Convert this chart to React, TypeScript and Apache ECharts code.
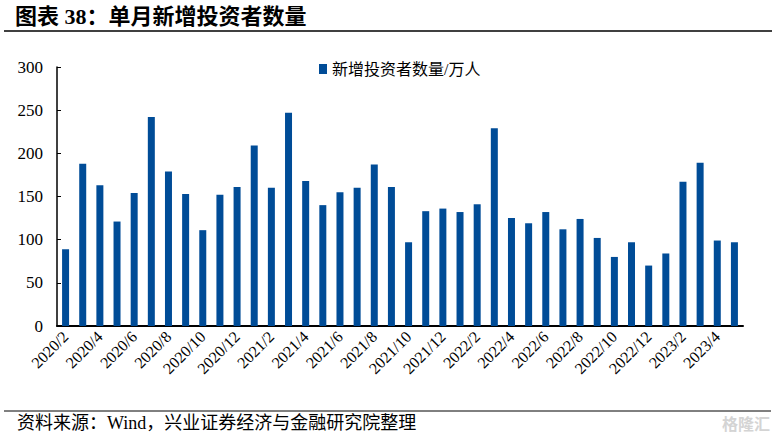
import React, { useEffect, useRef } from "react";
import * as echarts from "echarts";

const months: string[] = [
  "2020/2","2020/3","2020/4","2020/5","2020/6","2020/7","2020/8","2020/9","2020/10","2020/11","2020/12",
  "2021/1","2021/2","2021/3","2021/4","2021/5","2021/6","2021/7","2021/8","2021/9","2021/10","2021/11","2021/12",
  "2022/1","2022/2","2022/3","2022/4","2022/5","2022/6","2022/7","2022/8","2022/9","2022/10","2022/11","2022/12",
  "2023/1","2023/2","2023/3","2023/4","2023/5",
];
const newInvestors: number[] = [
  89, 188, 163, 121, 154, 242, 179, 153, 111, 152, 161,
  209, 160, 247, 168, 140, 155, 160, 187, 161, 97, 133, 136,
  132, 141, 229, 125, 119, 132, 112, 124, 102, 80, 97, 70,
  84, 167, 189, 99, 97,
];
const seriesName = "新增投资者数量/万人";
const titleText = "图表 38：单月新增投资者数量";
const sourceText = "资料来源：Wind，兴业证券经济与金融研究院整理";

const SERIF = "Liberation Serif, Noto Sans CJK SC, serif";

export default function App() {
  const ref = useRef<HTMLDivElement>(null);
  useEffect(() => {
    document.body.style.margin = "0";
    if (!ref.current) return;
    const chart = echarts.init(ref.current, undefined, { renderer: "svg" });
    chart.setOption({
      animation: false,
      backgroundColor: "#ffffff",
      grid: { left: 57, right: 34, top: 67, bottom: 114, containLabel: false },
      legend: {
        data: [seriesName],
        left: 314,
        top: 56,
        itemWidth: 8,
        itemHeight: 10,
        itemGap: 5,
        textStyle: { fontFamily: SERIF, fontSize: 16, color: "#000" },
        icon: "rect",
      },
      xAxis: {
        type: "category",
        data: months,
        axisLine: { lineStyle: { color: "#000", width: 2 } },
        axisTick: { show: false },
        axisLabel: {
          interval: 1,
          rotate: 45,
          fontFamily: SERIF,
          fontSize: 16,
          color: "#000",
          margin: 8,
        },
      },
      yAxis: {
        type: "value",
        min: 0,
        max: 300,
        interval: 50,
        axisLine: { show: true, lineStyle: { color: "#000", width: 1.5 } },
        axisTick: { show: true, inside: true, length: 4, lineStyle: { color: "#000" } },
        splitLine: { show: false },
        axisLabel: { fontFamily: SERIF, fontSize: 17, color: "#000", margin: 14 },
      },
      series: [
        {
          name: seriesName,
          type: "bar",
          data: newInvestors,
          barWidth: 7,
          itemStyle: { color: "#004C97" },
        },
      ],
      graphic: [
        {
          type: "text",
          left: 15,
          top: 5,
          style: {
            text: titleText,
            fontFamily: SERIF,
            fontWeight: "bold",
            fontSize: 22,
            fill: "#000",
          },
        },
        {
          type: "line",
          shape: { x1: 4, y1: 31, x2: 772, y2: 31 },
          style: { stroke: "#000", lineWidth: 1.5 },
        },
        {
          type: "line",
          shape: { x1: 4, y1: 411, x2: 771, y2: 411 },
          style: { stroke: "#000", lineWidth: 1 },
        },
        {
          type: "text",
          left: 17,
          top: 414,
          style: {
            text: sourceText,
            fontFamily: SERIF,
            fontSize: 18,
            fill: "#000",
          },
        },
        {
          type: "text",
          left: 722,
          top: 415,
          style: {
            text: "格隆汇",
            fontFamily: "Noto Sans CJK SC, sans-serif",
            fontSize: 16,
            fontWeight: "bold",
            fill: "#d4d4d4",
          },
        },
      ],
    });
    return () => chart.dispose();
  }, []);
  return <div ref={ref} style={{ width: 777, height: 440 }} />;
}
